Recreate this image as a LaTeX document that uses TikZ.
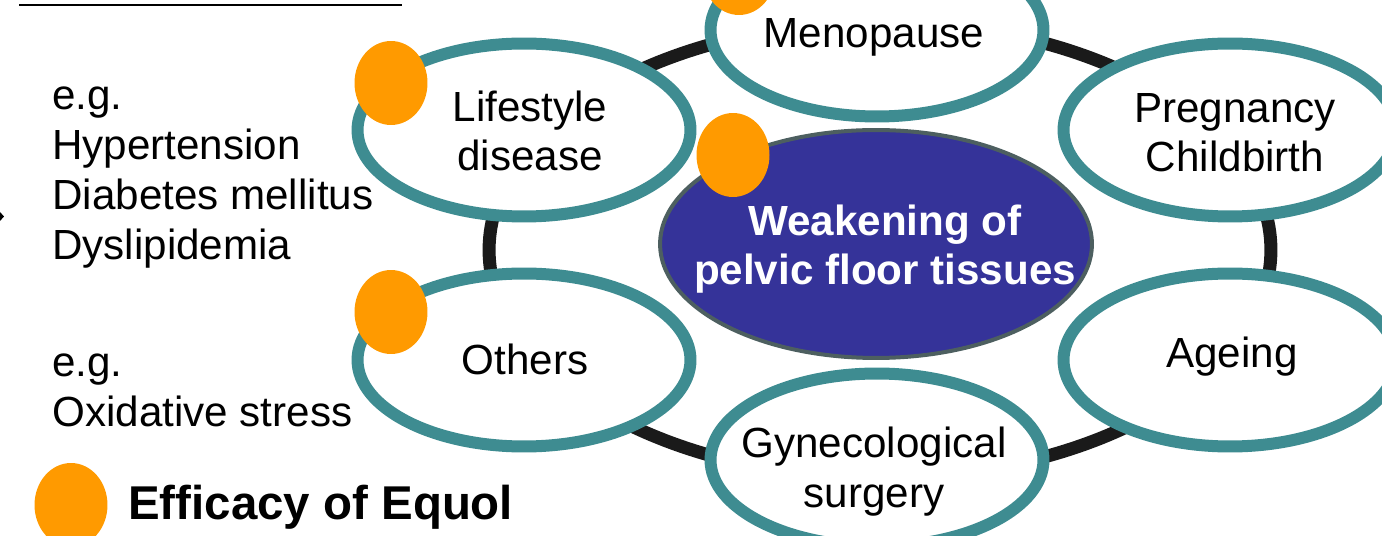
\documentclass[tikz,border=0pt]{standalone}
\usepackage{fontspec}
\setmainfont{Liberation Sans}
\usetikzlibrary{shapes.geometric}
\definecolor{causeteal}{HTML}{3E8C91}
\definecolor{hubblue}{HTML}{353399}
\definecolor{hubrim}{HTML}{4D5F60}
\definecolor{equol}{HTML}{FF9A00}
\definecolor{ringblack}{HTML}{1A1A1A}

\begin{document}
\begin{tikzpicture}[x=0.02cm,y=-0.02cm,
  cause/.style={ellipse,draw=causeteal,line width=0.24cm,fill=white,inner sep=0pt,
    minimum width=6.66cm,minimum height=3.46cm},
  hub/.style={ellipse,draw=hubrim,line width=0.08cm,fill=hubblue,inner sep=0pt,
    minimum width=8.64cm,minimum height=4.56cm},
  equoldot/.style={ellipse,fill=equol,inner sep=0pt,minimum width=1.46cm,minimum height=1.68cm},
  txt/.style={align=center,anchor=base,inner sep=0pt,font=\fontsize{24}{28.4}\selectfont},
  note/.style={align=left,anchor=base west,inner sep=0pt,font=\fontsize{24}{28.6}\selectfont}]
  \useasboundingbox (0,0) rectangle (1382,536);
  \clip (0,0) rectangle (1382,536);

  \draw[line width=0.26cm,ringblack] (880,250) ellipse [x radius=7.82cm,y radius=4.56cm];

  \node[cause] (life) at (524,130) {};
  \node[cause] (other) at (524,360) {};
  \node[cause] (meno) at (877,30) {};
  \node[cause] (gyne) at (877,460) {};
  \node[cause] (preg) at (1230,130) {};
  \node[cause] (age) at (1230,360) {};
  \node[hub] (hub) at (876,244) {};

  % multi-line texts sit on the baseline of their last line
  \node[txt] (lifet) at (530,171) {Lifestyle\\disease};
  \node[txt] (othert) at (525,375) {Others};
  \node[txt] (menot) at (874,48) {Menopause};
  \node[txt] (gynet) at (874,507) {Gynecological\\surgery};
  \node[txt] (pregt) at (1235,172) {Pregnancy\\Childbirth};
  \node[txt] (aget) at (1232,368) {Ageing};
  \node[txt,text=white,font=\fontsize{24}{28.4}\selectfont\bfseries] (hubt) at (885,285)
    {Weakening of\\pelvic floor tissues};

  \node[equoldot] (lifedot) at (391,83) {};
  \node[equoldot] (otherdot) at (391,312) {};
  \node[equoldot] (hubdot) at (733,155) {};
  \node[equoldot] (menodot) at (739,-27) {};

  \node[note] (lifeeg) at (52,260) {e.g.\\Hypertension\\Diabetes mellitus\\Dyslipidemia};
  \node[note] (othereg) at (52,427) {e.g.\\Oxidative stress};

  \node[equoldot] (keydot) at (71,505) {};
  \node[anchor=base west,inner sep=0pt,font=\fontsize{27}{32}\selectfont\bfseries] (keyt)
    at (128,520) {Efficacy of Equol};

  \draw[line width=0.05cm] (19,5) -- (402,5);
  \fill (0,212) -- (4,216.5) -- (0,221) -- cycle;
\end{tikzpicture}
\end{document}
